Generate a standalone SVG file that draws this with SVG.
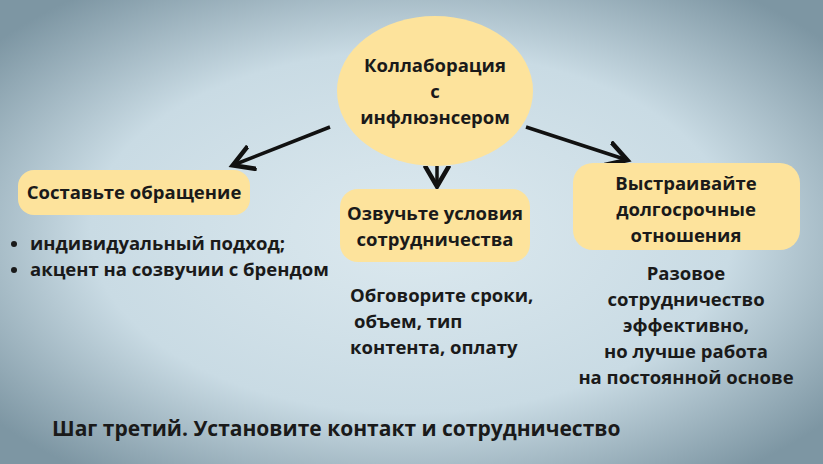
<svg xmlns="http://www.w3.org/2000/svg" width="823" height="464" viewBox="0 0 823 464">
<defs>
<radialGradient id="bg" cx="50%" cy="50%" r="65%">
<stop offset="0" stop-color="#dce9ef"/><stop offset="0.6" stop-color="#c9dbe4"/><stop offset="1" stop-color="#7d96a3"/>
</radialGradient>
<marker id="ah" markerWidth="8" markerHeight="8" refX="5" refY="4" orient="auto" markerUnits="strokeWidth">
<path d="M0,0.5 L6,4 L0,7.5" fill="none" stroke="#111" stroke-width="1.3"/>
</marker>
<style>
text{font-family:"Open Sans","Liberation Sans",sans-serif;font-weight:bold;fill:#1a1a1a;font-size:18.5px}
.n{fill:#fde39c}
.c{stroke:#111;stroke-width:3.5;fill:none;marker-end:url(#ah)}
.m{text-anchor:middle}
</style>
</defs>
<rect width="823" height="464" fill="url(#bg)"/>
<g id="connectors">
<line class="c" x1="330" y1="127" x2="236" y2="164"/>
<line class="c" x1="437" y1="166" x2="437" y2="183"/>
<line class="c" x1="526" y1="127" x2="624" y2="159"/>
</g>
<g id="center"><ellipse class="n" cx="435" cy="91" rx="98" ry="75"/>
<text class="m" x="435" y="72">Коллаборация</text><text class="m" x="435" y="98">с</text><text class="m" x="435" y="124">инфлюэнсером</text></g>
<g id="left"><rect class="n" x="18" y="170" width="232" height="45" rx="16"/>
<text class="m" x="134" y="199">Составьте обращение</text></g>
<g id="mid"><rect class="n" x="340" y="189" width="190" height="73" rx="18"/>
<text class="m" x="435" y="220">Озвучьте условия</text><text class="m" x="435" y="246">сотрудничества</text></g>
<g id="right"><rect class="n" x="573" y="163" width="227" height="87" rx="20"/>
<text class="m" x="686" y="190">Выстраивайте</text><text class="m" x="686" y="216">долгосрочные</text><text class="m" x="686" y="242">отношения</text></g>
<g id="texts">
<circle cx="14" cy="244" r="3" fill="#1a1a1a"/><circle cx="14" cy="270" r="3" fill="#1a1a1a"/>
<text x="30" y="250">индивидуальный подход;</text>
<text x="30" y="276">акцент на созвучии с брендом</text>
<text x="350" y="302">Обговорите сроки,</text>
<text x="354" y="328">объем, тип</text>
<text x="350" y="354">контента, оплату</text>
<text class="m" x="686" y="280">Разовое</text>
<text class="m" x="686" y="306">сотрудничество</text>
<text class="m" x="686" y="332">эффективно,</text>
<text class="m" x="686" y="358">но лучше работа</text>
<text class="m" x="686" y="384">на постоянной основе</text>
<text x="52" y="436" style="font-size:21px">Шаг третий. Установите контакт и сотрудничество</text>
</g>
</svg>
